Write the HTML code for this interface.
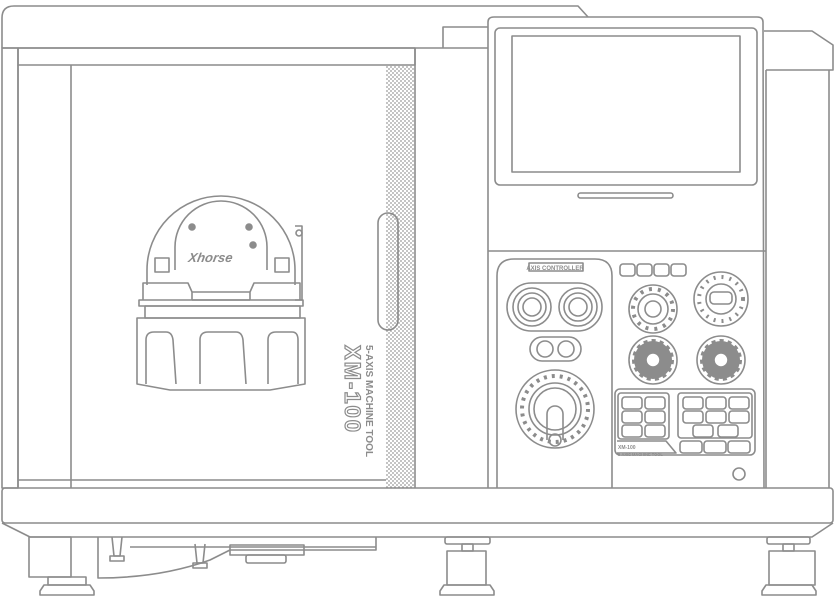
<!DOCTYPE html>
<html><head><meta charset="utf-8"><style>
html,body{margin:0;padding:0;background:#fff;}
svg{display:block;}
text{font-family:"Liberation Sans",sans-serif;font-weight:bold;}
</style></head><body>
<svg width="835" height="600" viewBox="0 0 835 600" xmlns="http://www.w3.org/2000/svg">
<defs>
<pattern id="dots" width="4" height="4" patternUnits="userSpaceOnUse">
<circle cx="1" cy="1" r="0.9" fill="#9a9a9a"/><circle cx="3" cy="3" r="0.9" fill="#9a9a9a"/>
</pattern>
</defs>
<g fill="none" stroke="#8c8c8c" stroke-width="1.6" stroke-linejoin="round">
<!-- lid -->
<path d="M2 48 L2 18 Q2 6 14 6 L578 6 L588 17"/>
<line x1="2" y1="48" x2="488" y2="48"/>
<rect x="2" y="48" width="16" height="440"/>
<rect x="18" y="48" width="397" height="17"/>
<line x1="18" y1="65" x2="18" y2="488"/>
<line x1="71" y1="65" x2="71" y2="488"/>
<rect x="386" y="65" width="28" height="423" fill="url(#dots)" stroke="none"/>
<line x1="415" y1="48" x2="415" y2="488"/>
<line x1="18" y1="480" x2="386" y2="480"/>
<!-- door handle -->
<rect x="378" y="213" width="20" height="117" rx="10"/>
<!-- step block -->
<path d="M443 48 L443 27 L488 27"/>
<!-- control panel -->
<path d="M488 488 L488 22 Q488 17 494 17 L757 17 Q763 17 763 22 L764 488"/>
<rect x="495" y="28" width="262" height="157" rx="5"/>
<rect x="512" y="36" width="228" height="136"/>
<rect x="578" y="193" width="95" height="5" rx="2.5"/>
<line x1="488" y1="251" x2="766" y2="251"/>
<!-- right side block -->
<path d="M764 31 L812 31 L833 45 L833 70 L766 70"/>
<line x1="766" y1="70" x2="766" y2="488"/>
<line x1="829" y1="70" x2="829" y2="488"/>
<!-- base -->
<rect x="2" y="488" width="831" height="35" rx="3"/>
<path d="M2 523 L30 537 L812 537 L833 523"/>
<!-- feet -->
<rect x="29" y="537" width="42" height="40"/>
<rect x="48" y="577" width="38" height="8"/>
<path d="M44 585 L90 585 L94 591 L94 595 L40 595 L40 591 Z"/>
<rect x="445" y="537" width="45" height="7" rx="2"/>
<rect x="462" y="544" width="11" height="7"/>
<rect x="447" y="551" width="39" height="34"/>
<path d="M444 585 L490 585 L494 591 L494 595 L440 595 L440 591 Z"/>
<rect x="767" y="537" width="43" height="7" rx="2"/>
<rect x="783" y="544" width="11" height="7"/>
<rect x="769" y="551" width="46" height="34"/>
<path d="M766 585 L812 585 L816 591 L816 595 L762 595 L762 591 Z"/>
<!-- bracket -->
<path d="M98 537 L98 578 Q160 578 210 560 L230 550 L376 550 L376 537"/>
<line x1="130" y1="547" x2="376" y2="547"/>
<rect x="230" y="545" width="74" height="10"/>
<rect x="246" y="555" width="40" height="8" rx="2"/>
<path d="M112 537 L114 556 L120 556 L122 537"/><rect x="110" y="556" width="14" height="5"/>
<path d="M195 544 L197 563 L203 563 L205 544"/><rect x="193" y="563" width="14" height="5"/>

<!-- wheel -->
<path d="M147 270 A74 74 0 0 1 295 270"/>
<path d="M147 270 L147 285 M295 270 L295 285"/>
<path d="M175 270 L175 247 A46 46 0 0 1 267 247 L267 270"/>
<circle cx="192" cy="227" r="3" fill="#8c8c8c"/>
<circle cx="249" cy="227" r="3" fill="#8c8c8c"/>
<circle cx="253" cy="245" r="3" fill="#8c8c8c"/>
<path d="M295 226 L302 226 L302 300 L295 300"/>
<circle cx="299" cy="233" r="3"/>
<rect x="155" y="258" width="14" height="14"/>
<rect x="275" y="258" width="14" height="14"/>
<path d="M143 300 L143 283 L188 283 L192 292 L192 300 M300 300 L300 283 L254 283 L250 292 L250 300 M192 292 L250 292"/>
<line x1="192" y1="300" x2="250" y2="300"/>
<rect x="139" y="300" width="164" height="6"/>
<rect x="145" y="306" width="155" height="12"/>
<path d="M137 318 L305 318 L305 384 L270 390 L170 390 L137 384 Z"/>
<path d="M146 384 L146 340 Q146 332 154 332 L166 332 Q172 332 173 340 L176 384"/>
<path d="M200 384 L200 340 Q200 332 208 332 L236 332 Q242 332 243 340 L246 384"/>
<path d="M268 384 L268 340 Q268 332 276 332 L292 332 Q298 332 298 340 L298 384"/>

<!-- axis controller -->
<path d="M497 488 L497 276 Q497 259 514 259 L595 259 Q612 259 612 276 L612 488"/>
<rect x="529" y="263" width="54" height="8"/>
<rect x="507" y="283" width="95" height="48" rx="24"/>
<circle cx="532" cy="307" r="19"/><circle cx="532" cy="307" r="14"/><circle cx="532" cy="307" r="9"/>
<circle cx="578" cy="307" r="19"/><circle cx="578" cy="307" r="14"/><circle cx="578" cy="307" r="9"/>
<rect x="530" y="337" width="51" height="24" rx="12"/>
<circle cx="545" cy="349" r="8"/><circle cx="566" cy="349" r="8"/>
<circle cx="555" cy="409" r="39"/>
<circle cx="555" cy="409" r="33" stroke-dasharray="3 5" stroke-width="4"/>
<circle cx="555" cy="409" r="26"/>
<circle cx="555" cy="409" r="21"/>
<path d="M547 440 L547 414 A8 8 0 0 1 563 414 L563 440"/>
<circle cx="555" cy="440" r="6"/>
<!-- right controls -->
<rect x="620" y="264" width="15" height="12" rx="3"/>
<rect x="637" y="264" width="15" height="12" rx="3"/>
<rect x="654" y="264" width="15" height="12" rx="3"/>
<rect x="671" y="264" width="15" height="12" rx="3"/>
<circle cx="653" cy="309" r="24"/>
<circle cx="653" cy="309" r="20" stroke-dasharray="3 6" stroke-width="4"/>
<circle cx="653" cy="309" r="15"/><circle cx="653" cy="309" r="8"/>
<circle cx="721" cy="299" r="27"/>
<circle cx="721" cy="299" r="22" stroke-dasharray="2 6" stroke-width="4"/>
<circle cx="721" cy="299" r="15"/>
<rect x="710" y="292" width="22" height="12" rx="4"/>
<circle cx="653" cy="360" r="24"/>
<circle cx="653" cy="360" r="19" fill="#8c8c8c" stroke-dasharray="4 4" stroke-width="4"/>
<circle cx="653" cy="360" r="7" fill="#fff"/>
<circle cx="721" cy="360" r="24"/>
<circle cx="721" cy="360" r="19" fill="#8c8c8c" stroke-dasharray="4 4" stroke-width="4"/>
<circle cx="721" cy="360" r="7" fill="#fff"/>
<!-- keypad -->
<rect x="615" y="389" width="140" height="66" rx="5"/>
<rect x="618" y="393" width="51" height="46" rx="3"/>
<rect x="622" y="397" width="20" height="12" rx="3"/><rect x="645" y="397" width="20" height="12" rx="3"/>
<rect x="622" y="411" width="20" height="12" rx="3"/><rect x="645" y="411" width="20" height="12" rx="3"/>
<rect x="622" y="425" width="20" height="12" rx="3"/><rect x="645" y="425" width="20" height="12" rx="3"/>
<rect x="678" y="393" width="74" height="45" rx="3"/>
<rect x="683" y="397" width="20" height="12" rx="3"/><rect x="706" y="397" width="20" height="12" rx="3"/><rect x="729" y="397" width="20" height="12" rx="3"/>
<rect x="683" y="411" width="20" height="12" rx="3"/><rect x="706" y="411" width="20" height="12" rx="3"/><rect x="729" y="411" width="20" height="12" rx="3"/>
<rect x="693" y="425" width="20" height="12" rx="3"/><rect x="718" y="425" width="20" height="12" rx="3"/>
<rect x="680" y="441" width="22" height="12" rx="3"/><rect x="704" y="441" width="22" height="12" rx="3"/><rect x="728" y="441" width="22" height="12" rx="3"/>
<path d="M617 441 L666 441 L676 453 L617 453"/>
<circle cx="739" cy="474" r="6"/>
</g>
<text x="555" y="270" font-size="6" fill="#8c8c8c" text-anchor="middle">AXIS CONTROLLER</text>
<text x="190" y="262" font-size="13" fill="#8c8c8c" font-style="italic" transform="skewX(-10) translate(44 0)">Xhorse</text>
<text x="618" y="449" font-size="5" fill="#8c8c8c">XM-100</text>
<text x="618" y="456" font-size="4" fill="#8c8c8c">5-AXIS MACHINE TOOL</text>
<text font-size="22" fill="none" stroke="#8c8c8c" stroke-width="1.2" letter-spacing="2" transform="translate(345 345) rotate(90)">XM-100</text>
<text font-size="10" fill="#8c8c8c" transform="translate(366 345) rotate(90)">5-AXIS MACHINE TOOL</text>
</svg>
</body></html>
